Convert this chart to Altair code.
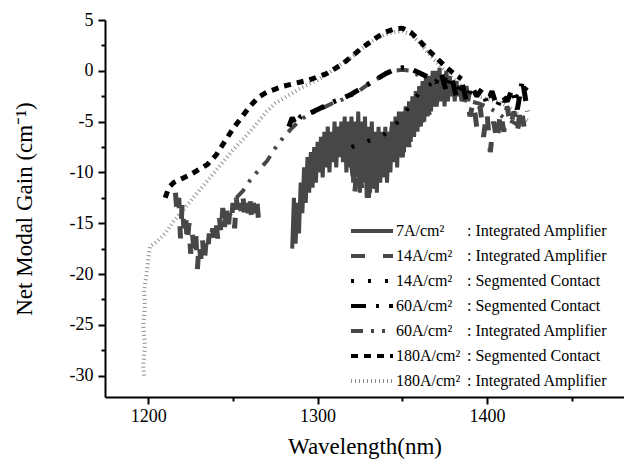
import altair as alt
import pandas as pd

# ---------------- data ----------------
# 7A/cm2 : Integrated Amplifier (solid, very noisy)
s7ia_x = [1285, 1286, 1287, 1288, 1289, 1290, 1291, 1292, 1293, 1294, 1295, 1296, 1297, 1298, 1299,
          1300, 1301, 1302, 1303, 1304, 1305, 1306, 1307, 1308, 1309, 1310, 1311, 1312, 1313, 1314,
          1315, 1316, 1317, 1318, 1319, 1320, 1321, 1322, 1323, 1324, 1325, 1326, 1327, 1328, 1329,
          1330, 1331, 1332, 1333, 1334, 1335, 1336, 1337, 1338, 1339, 1340, 1341, 1342, 1343, 1344,
          1345, 1346, 1347, 1348, 1349, 1350, 1351, 1352, 1353, 1354, 1355, 1356, 1357, 1358, 1359,
          1360, 1361, 1362, 1363, 1364, 1365, 1366, 1367, 1368, 1369, 1370, 1371, 1372, 1373, 1374,
          1375, 1376, 1377, 1378, 1379, 1380, 1381, 1382, 1383, 1384, 1385, 1386, 1387, 1388, 1389, 1390]
s7ia_y = [-17.5, -12.5, -17.0, -13.0, -16.0, -11.0, -14.0, -9.5, -13.0, -8.5, -12.0, -8.0, -11.5, -7.5, -11.0,
          -7.0, -10.0, -6.5, -10.5, -6.0, -9.5, -5.5, -10.0, -6.0, -9.0, -5.0, -9.5, -5.5, -8.5, -5.0,
          -9.0, -4.5, -10.0, -5.0, -9.5, -4.5, -11.0, -5.0, -10.5, -4.0, -12.0, -5.0, -11.0, -4.5, -12.5,
          -5.5, -12.0, -5.0, -11.5, -6.0, -12.0, -5.5, -11.0, -6.0, -10.5, -5.5, -11.0, -6.0, -10.0, -5.0,
          -9.0, -4.5, -9.5, -4.0, -8.5, -4.0, -8.0, -3.5, -7.5, -3.0, -7.0, -2.5, -6.5, -2.0, -6.0,
          -1.5, -5.5, -1.0, -5.0, -0.5, -4.5, -0.5, -4.0, 0.0, -3.5, 0.0, -3.0, 0.3, -3.0, -0.5,
          -3.5, 0.0, -3.0, -0.5, -2.5, -1.0, -3.0, -1.0, -2.5, -1.5, -3.0, -1.5, -2.5, -1.5, -3.0, -2.0]

# 14A/cm2 : Integrated Amplifier (long dashes, two pieces)
s14ia_x = [1216, 1217, 1218, 1219, 1220, 1221, 1222, 1223, 1224, 1225, 1226, 1227, 1228, 1229, 1230,
           1231, 1232, 1233, 1234, 1235, 1236, 1237, 1238, 1239, 1240, 1241, 1242, 1243, 1244, 1245,
           1246, 1247, 1248, 1249, 1250, 1251, 1252, 1253, 1254, 1255, 1256, 1257, 1258, 1259, 1260,
           1261, 1262, 1263, 1264, 1265,
           1320, 1322, 1324, 1326, 1328, 1330, 1332, 1334, 1336, 1338, 1340, 1342, 1344, 1346, 1348,
           1350, 1352, 1354, 1356, 1358, 1360, 1362, 1364, 1366, 1368, 1370, 1372, 1374, 1376, 1378,
           1380, 1382, 1384, 1386, 1388, 1390, 1392, 1394, 1396, 1398, 1400, 1402, 1404, 1406, 1408,
           1410, 1412, 1414, 1416, 1418, 1420, 1422]
s14ia_y = [-12.0, -14.0, -12.5, -16.5, -13.0, -15.5, -14.0, -17.0, -15.0, -18.0, -16.0, -17.5, -16.0, -19.5, -17.0,
           -18.5, -16.5, -19.0, -17.0, -18.0, -16.0, -17.0, -15.5, -16.5, -15.0, -16.5, -14.5, -16.0, -13.5, -15.5,
           -13.0, -16.0, -14.0, -15.0, -13.0, -15.5, -12.5, -14.5, -13.0, -14.0, -12.5, -14.5, -13.0, -14.0, -12.5,
           -14.5, -13.0, -14.0, -12.5, -14.5,
           -9.0, -12.0, -8.0, -11.5, -7.5, -12.5, -7.0, -12.0, -6.5, -11.0, -6.0, -10.5, -5.5, -9.5, -5.0,
           -8.5, -4.5, -7.5, -3.5, -6.5, -3.0, -5.5, -2.0, -4.5, -1.5, -3.5, -0.5, -3.0, 0.0, -2.5,
           -1.0, -3.0, -1.5, -3.5, -2.0, -4.5, -3.0, -5.5, -3.5, -6.5, -4.0, -8.0, -5.0, -7.0, -4.0,
           -6.0, -3.5, -5.5, -4.0, -6.0, -3.5, -5.5]
s14ia_seg = [0] * 50 + [1] * 52

# 14A/cm2 : Segmented Contact (sparse dots)
s14sc_x = [1320, 1325, 1330, 1335, 1340, 1345, 1350, 1355, 1360, 1365, 1370, 1375, 1380, 1385, 1390,
           1395, 1400, 1405, 1410, 1415, 1420, 1424]
s14sc_y = [-7.5, -7.2, -6.9, -6.6, -6.2, -5.5, -4.5, -3.3, -2.2, -1.5, -1.0, -0.8, -1.2, -1.8, -2.3,
           -2.0, -2.6, -2.3, -3.0, -2.2, -2.8, -1.5]

# 60A/cm2 : Segmented Contact (dash-dot)
s60sc_x = [1283, 1285, 1287, 1290, 1295, 1300, 1305, 1310, 1315, 1320, 1325, 1330, 1335, 1340, 1345,
           1350, 1355, 1360, 1365, 1370, 1373, 1376, 1379, 1382, 1385, 1388, 1391, 1394, 1397, 1400,
           1403, 1406, 1409, 1412, 1415, 1418, 1421, 1424]
s60sc_y = [-5.5, -4.6, -5.3, -4.5, -4.2, -3.8, -3.4, -3.0, -2.7, -2.3, -1.8, -1.3, -0.8, -0.3, 0.1,
           0.3, 0.2, -0.2, -0.6, -1.1, -0.2, -2.0, -0.5, -2.6, -1.0, -3.0, -1.5, -2.5, -1.8, -3.2,
           -2.0, -3.6, -2.4, -3.0, -1.8, -3.8, -0.9, -4.0]

# 60A/cm2 : Integrated Amplifier (dash-dot-dot)
s60ia_x = [1252, 1256, 1260, 1265, 1270, 1275, 1280, 1285, 1290, 1295, 1300, 1305, 1310, 1315, 1320,
           1325, 1330, 1335, 1340, 1345, 1350, 1355, 1360, 1365, 1370, 1375, 1380, 1385, 1390, 1395,
           1400, 1405, 1410, 1415, 1420]
s60ia_y = [-12.5, -11.8, -10.8, -9.8, -8.9, -7.6, -6.5, -5.6, -4.8, -4.3, -3.9, -3.5, -3.1, -2.8, -2.4,
           -1.9, -1.3, -0.8, -0.3, 0.0, 0.1, 0.0, -0.5, -0.9, -1.3, -1.8, -2.2, -2.6, -3.0, -3.2,
           -3.5, -4.0, -4.6, -5.0, -5.5]

# 180A/cm2 : Segmented Contact (short dashes)
s180sc_x = [1210, 1212, 1215, 1220, 1225, 1230, 1235, 1240, 1245, 1250, 1255, 1260, 1265, 1270, 1275,
            1280, 1285, 1290, 1295, 1300, 1305, 1310, 1315, 1320, 1325, 1330, 1335, 1340, 1345, 1350,
            1355, 1360, 1365, 1370, 1375, 1380, 1385]
s180sc_y = [-12.5, -11.5, -11.0, -10.6, -10.2, -9.7, -9.2, -8.3, -7.0, -5.7, -4.6, -3.5, -2.6, -2.1, -1.8,
            -1.5, -1.3, -1.1, -0.9, -0.6, -0.3, 0.2, 0.7, 1.4, 2.1, 2.7, 3.3, 3.8, 4.1, 4.2,
            3.8, 3.0, 2.1, 1.3, 0.5, -0.2, -0.8]

# 180A/cm2 : Integrated Amplifier (fine light dots)
s180ia_x = [1197.5, 1197, 1198, 1197, 1198, 1197.5, 1199, 1200, 1201, 1205, 1210, 1215, 1220, 1225, 1230,
            1235, 1240, 1245, 1250, 1255, 1260, 1265, 1270, 1275, 1280, 1285, 1290, 1295, 1300, 1305,
            1310, 1315, 1320, 1325, 1330, 1335, 1340, 1345, 1350, 1355, 1360, 1365, 1370, 1375, 1380,
            1385, 1390, 1395, 1400, 1405, 1410, 1415, 1420, 1425]
s180ia_y = [-30.0, -29.0, -27.0, -25.0, -23.0, -21.5, -20.0, -18.5, -17.3, -16.8, -16.0, -14.8, -13.8, -12.8, -11.8,
            -10.8, -9.8, -8.8, -7.8, -6.9, -6.0, -5.0, -4.0, -3.2, -2.7, -2.2, -1.7, -1.3, -0.9, -0.4,
            0.2, 0.8, 1.3, 2.0, 2.7, 3.2, 3.6, 3.8, 3.9, 3.6, 2.8, 1.8, 0.9, 0.0, -0.8,
            -1.5, -2.0, -2.5, -2.8, -3.0, -3.3, -3.8, -4.5, -5.0]

# legend
legend_labels = ["7A/cm²", "14A/cm²", "14A/cm²", "60A/cm²", "60A/cm²", "180A/cm²", "180A/cm²"]
legend_desc = [": Integrated Amplifier", ": Integrated Amplifier", ": Segmented Contact",
               ": Segmented Contact", ": Integrated Amplifier", ": Segmented Contact",
               ": Integrated Amplifier"]

x_ticks = [1200, 1250, 1300, 1350, 1400, 1450]
y_ticks = [-30, -27.5, -25, -22.5, -20, -17.5, -15, -12.5, -10, -7.5, -5, -2.5, 0, 2.5, 5]

# ---------------- styles ----------------
DARK = "#474747"
LIGHT = "#909090"
FONT = "Liberation Serif"
PAD_L, PAD_T = 105, 20

xscale = alt.Scale(domain=[1174.4, 1481], nice=False, zero=False)
yscale = alt.Scale(domain=[-32.1, 5], nice=False, zero=False)

xaxis = alt.Axis(values=x_ticks, labelExpr="datum.value % 100 == 0 ? '' + datum.value : ''",
                 title="Wavelength(nm)",
                 tickSize={"condition": {"test": "datum.value % 100 == 0", "value": 7}, "value": 4},
                 labelPadding=3, titlePadding=10)
yaxis = alt.Axis(values=y_ticks, labelExpr="datum.value % 5 == 0 ? '' + datum.value : ''",
                 title="Net Modal Gain (cm⁻¹)",
                 tickSize={"condition": {"test": "datum.value % 5 == 0", "value": 7}, "value": 4},
                 labelPadding=5, titlePadding=33)


def series(xs, ys, segs=None):
    d = pd.DataFrame({"x": xs, "y": ys})
    d["seg"] = segs if segs is not None else 0
    d["order"] = range(len(d))
    return d


def line(df, color, width, dash=None):
    kw = dict(color=color, strokeWidth=width, strokeJoin="bevel", strokeCap="butt", clip=True)
    if dash is not None:
        kw["strokeDash"] = dash
    return alt.Chart(df).mark_line(**kw).encode(
        x=alt.X("x:Q", scale=xscale, axis=xaxis),
        y=alt.Y("y:Q", scale=yscale, axis=yaxis),
        detail="seg:N",
        order="order:Q",
    )


styles = [
    (DARK, 4, None),                 # 7A IA
    (DARK, 5, [14, 18]),             # 14A IA
    ("black", 4, [3, 14]),           # 14A SC
    ("black", 5, [15, 10, 3, 10]),   # 60A SC
    (DARK, 4, [12, 8, 3, 8, 3, 8]),  # 60A IA
    ("black", 5, [7, 6]),            # 180A SC
    (LIGHT, 4, [1, 3]),              # 180A IA
]

layers = [
    line(series(s180ia_x, s180ia_y), *styles[6]),
    line(series(s14ia_x, s14ia_y, s14ia_seg), *styles[1]),
    line(series(s60ia_x, s60ia_y), *styles[4]),
    line(series(s7ia_x, s7ia_y), *styles[0]),
    line(series(s180sc_x, s180sc_y), *styles[5]),
    line(series(s60sc_x, s60sc_y), *styles[3]),
    line(series(s14sc_x, s14sc_y), *styles[2]),
]

# legend (drawn in pixel space, relative to the plot area)
row_y = [231, 256, 281, 306, 331, 356, 381]
row_y = [r - PAD_T for r in row_y]
for i, (c, w, d) in enumerate(styles):
    kw = dict(color=c, strokeWidth=min(w, 4), strokeCap="butt")
    if d is not None:
        kw["strokeDash"] = d
    layers.append(
        alt.Chart(pd.DataFrame({"a": [0]})).mark_rule(**kw).encode(
            x=alt.value(351 - PAD_L), x2=alt.value(393 - PAD_L), y=alt.value(row_y[i])
        )
    )

leg = pd.DataFrame({"label": legend_labels, "desc": legend_desc, "py": row_y})
layers.append(
    alt.Chart(leg).mark_text(align="left", baseline="middle", font=FONT, fontSize=16, color="black").encode(
        x=alt.value(396 - PAD_L), y=alt.Y("py:Q", scale=None), text="label:N"
    )
)
layers.append(
    alt.Chart(leg).mark_text(align="left", baseline="middle", font=FONT, fontSize=16, color="black").encode(
        x=alt.value(467 - PAD_L), y=alt.Y("py:Q", scale=None), text="desc:N"
    )
)

chart = alt.layer(*layers).properties(
    width=519, height=377,
    autosize=alt.AutoSizeParams(type="none"),
    padding={"left": PAD_L, "top": PAD_T, "right": 0, "bottom": 74},
).configure_view(stroke=None).configure_axis(
    grid=False, domainColor="black", domainWidth=2, tickColor="black", tickWidth=2,
    labelFont=FONT, labelFontSize=18, labelColor="black",
    titleFont=FONT, titleFontSize=23, titleFontWeight="normal", titleColor="black",
)

chart.save("out.html", embed_options={"renderer": "svg", "actions": False})
